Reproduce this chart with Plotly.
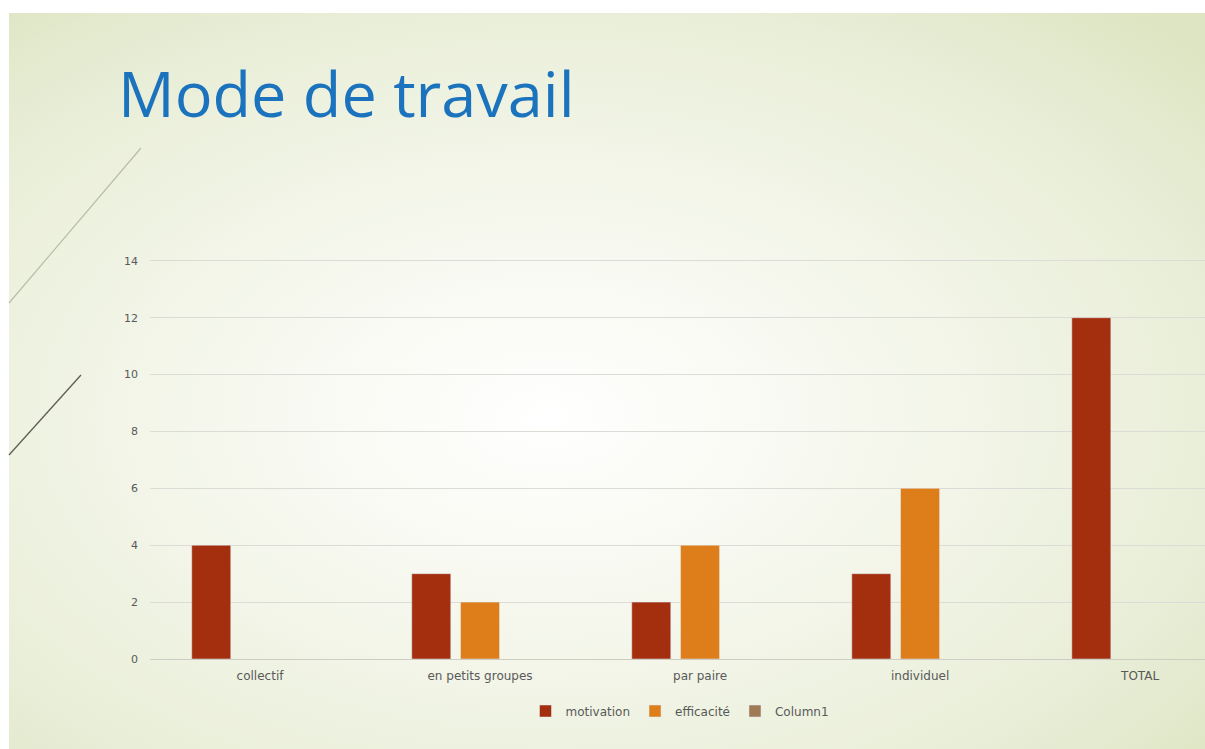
import plotly.graph_objects as go
import urllib.parse

categories = ["collectif", "en petits groupes", "par paire", "individuel", "TOTAL"]
motivation = [4, 3, 2, 3, 12]
efficacite = [None, 2, 4, 6, None]
column1 = [None, None, None, None, None]
y_ticks = [0, 2, 4, 6, 8, 10, 12, 14]

W, H = 1205, 749
FONT = "'DejaVu Sans', 'Open Sans', sans-serif"
TITLE_FONT = "'Open Sans', 'DejaVu Sans', sans-serif"

def px(x):
    return x / W

def py(y):
    return 1 - y / H

fig = go.Figure()
fig.add_trace(go.Bar(name="motivation", x=categories, y=motivation, marker_color="#a32f0f"))
fig.add_trace(go.Bar(name="efficacité", x=categories, y=efficacite, marker_color="#dd7e1a"))
fig.add_trace(go.Bar(name="Column1", x=categories, y=column1, marker_color="#a07a55"))

svg = (
    "<svg xmlns='http://www.w3.org/2000/svg' width='1196' height='736'>"
    "<defs><radialGradient id='g' cx='0.45' cy='0.55' r='0.75'>"
    "<stop offset='0' stop-color='#ffffff'/>"
    "<stop offset='0.35' stop-color='#f6f8ee'/>"
    "<stop offset='0.75' stop-color='#e9eed8'/>"
    "<stop offset='1' stop-color='#dde5c2'/>"
    "</radialGradient></defs>"
    "<rect width='1196' height='736' fill='url(#g)'/></svg>"
)
src = "data:image/svg+xml;charset=utf-8," + urllib.parse.quote(svg)

fig.update_layout(
    width=W, height=H,
    margin=dict(l=0, r=0, t=0, b=0),
    paper_bgcolor="white",
    plot_bgcolor="rgba(0,0,0,0)",
    barmode="group",
    bargap=0.335,
    bargroupgap=0.2,
    font=dict(family=FONT, color="#595959"),
    images=[dict(source=src, xref="paper", yref="paper", x=px(9), y=py(13),
                 sizex=px(1196), sizey=736 / H, xanchor="left", yanchor="top",
                 sizing="stretch", layer="below")],
    xaxis=dict(domain=[px(150), 1], range=[-0.5, 4.295], showgrid=False,
               showline=True, linecolor="#cdcdc6", linewidth=1, ticks="",
               tickfont=dict(size=12, color="#595959"), ticklabelstandoff=6,
               automargin=False, fixedrange=True),
    yaxis=dict(domain=[py(659), py(258)], range=[0, 14.1], tickvals=y_ticks,
               showgrid=True, gridcolor="#dcdcd6", gridwidth=1, zeroline=False,
               ticks="", tickfont=dict(size=11, color="#595959"),
               ticklabelstandoff=11, automargin=False, fixedrange=True),
    legend=dict(orientation="h", x=px(680), y=py(711), xanchor="center", yanchor="middle",
                font=dict(size=12, color="#595959"), bgcolor="rgba(0,0,0,0)",
                itemwidth=30, tracegroupgap=0),
    annotations=[dict(text="Mode de travail", x=px(116), y=py(92), xref="paper", yref="paper",
                      xanchor="left", yanchor="middle", showarrow=False,
                      font=dict(family=TITLE_FONT, size=63, color="#1b73bd"))],
    shapes=[
        dict(type="line", xref="paper", yref="paper", x0=px(9), y0=py(303), x1=px(141), y1=py(148),
             line=dict(color="#b9bea8", width=1.2)),
        dict(type="line", xref="paper", yref="paper", x0=px(9), y0=py(455), x1=px(81), y1=py(375),
             line=dict(color="#5e5e50", width=1.3)),
    ],
)

fig.write_html("out.html")
